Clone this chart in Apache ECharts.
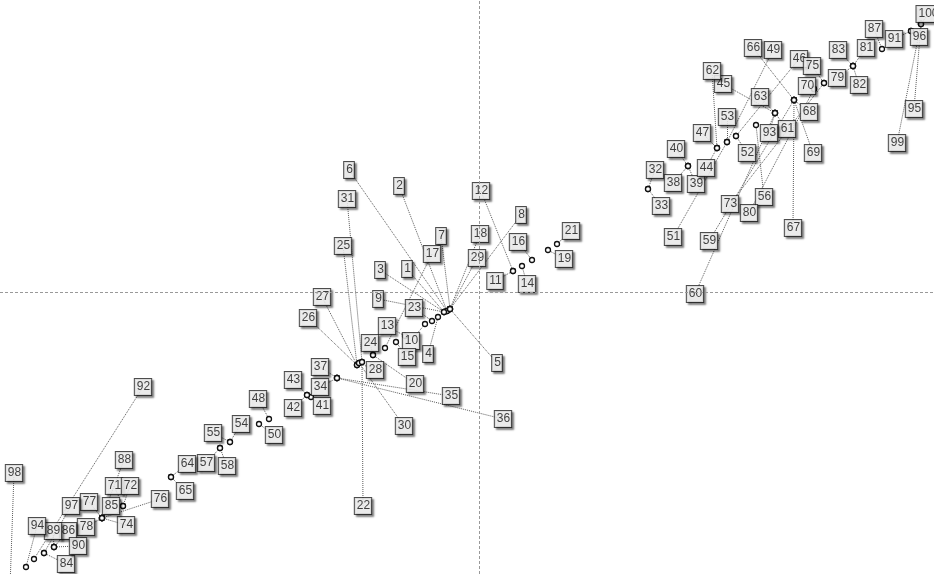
<!DOCTYPE html>
<html>
<head>
<meta charset="utf-8">
<script src="https://cdn.jsdelivr.net/npm/echarts@6/dist/echarts.min.js"></script>
<style>html,body{margin:0;padding:0;background:#fff}#c{width:934px;height:574px}</style>
</head>
<body>
<div id="c"></div>
<script>
// Label ids (1..100)
const ids = Array.from({length: 100}, (_, i) => String(i + 1));
// Label box positions (data units)
const labelX = [-72,-80,-99,-51,18,-130,-38,42,-101,-68,16,2,-92,48,-72,39,-47,1,85,-64,92,-116,-65,-109,-136,-171,-157,-104,-2,-75,-132,176,182,-159,-28,24,-159,194,217,197,-157,-186,-186,227,244,320,223,-221,294,-205,194,268,248,-238,-266,285,-273,-252,230,216,308,233,281,-292,-294,274,314,330,334,328,-365,-349,251,-353,333,-319,-390,-393,358,270,387,380,359,-413,-368,-411,395,-355,-426,-401,415,-336,290,-442,435,440,-408,-465,418,449];
const labelY = [23,106,22,-62,-71,122,56,77,-7,-49,11,101,-34,8,-65,50,38,58,33,-92,61,-214,-16,-51,46,-26,-5,-78,34,-134,93,122,86,-95,-104,-127,-75,109,108,143,-114,-116,-88,124,208,233,159,-107,242,-143,55,139,175,-132,-141,95,-171,-174,51,-2,163,221,195,-172,-199,244,64,180,139,206,-194,-194,88,-233,226,-207,-210,-235,214,79,244,207,242,-272,-214,-239,263,-168,-239,-254,253,-95,159,-234,183,255,-214,-181,149,278];
// Point positions each label refers to (data units)
const pointX = [-35,-32,-35,-41,-29,-32,-29,-29,-35,-54,34,34,-74,43,-83,53,-94,-29,69,-106,78,-117,-47,-106,-122,-122,-122,-120,-29,-120,-117,169,169,-142,-142,-142,-142,209,209,209,-168,-172,-172,238,296,257,238,-210,248,-220,248,257,248,-249,-249,277,-259,-259,315,296,296,238,296,-308,-308,315,315,315,315,335,-356,-356,345,-377,345,-377,-377,-377,374,335,374,374,374,-435,-377,-425,403,-377,-425,-425,432,-445,296,-453,442,432,-435,-469,442,442];
const pointY = [-20,-19,-20,-25,-17,-19,-17,-17,-20,-32,21,21,-44,26,-50,32,-56,-17,42,-63,48,-70,-29,-63,-73,-73,-73,-71,-17,-71,-70,103,103,-86,-86,-86,-86,126,126,126,-105,-103,-103,144,179,156,144,-127,150,-132,150,156,150,-150,-150,167,-156,-156,192,179,179,144,179,-185,-185,192,192,192,192,203,-214,-214,209,-226,209,-226,-226,-226,226,203,226,226,226,-261,-226,-255,243,-226,-255,-255,261,-267,179,-275,268,261,-261,-295,268,268];

const chart = echarts.init(document.getElementById('c'), null, {renderer: 'canvas'});

const leaderData = ids.map((id, i) => ({coords: [[labelX[i], labelY[i]], [pointX[i], pointY[i]]]}));
const pointData = ids.map((id, i) => [pointX[i], pointY[i]]);
const labelData = ids.map((id, i) => ({name: id, value: [labelX[i], labelY[i]]}));

chart.setOption({
  animation: false,
  backgroundColor: '#fff',
  grid: {left: 0, right: 0, top: 0, bottom: 0, containLabel: false},
  xAxis: {type: 'value', min: -479, max: 455, show: false},
  yAxis: {type: 'value', min: -282, max: 292, show: false},
  series: [
    {
      type: 'lines',
      coordinateSystem: 'cartesian2d',
      z: 1,
      silent: true,
      clip: true,
      lineStyle: {color: '#5a5a5a', width: 1, type: [1, 1], opacity: 1},
      data: leaderData,
      markLine: {
        silent: true,
        symbol: ['none', 'none'],
        label: {show: false},
        lineStyle: {color: '#999', width: 1, type: [3, 2]},
        data: [{xAxis: 0}, {yAxis: 0}]
      }
    },
    {
      type: 'scatter',
      z: 2,
      silent: true,
      clip: true,
      symbol: 'circle',
      symbolSize: 5,
      itemStyle: {color: '#fff', borderColor: '#111', borderWidth: 1.3, opacity: 1},
      data: pointData
    },
    {
      type: 'scatter',
      z: 3,
      silent: true,
      clip: false,
      symbolSize: 1,
      itemStyle: {color: 'rgba(0,0,0,0)'},
      label: {
        show: true,
        position: 'inside',
        formatter: '{b}',
        fontFamily: 'Liberation Sans, Arial, sans-serif',
        fontSize: 12,
        color: '#111',
        backgroundColor: '#fff',
        borderColor: '#222',
        borderWidth: 1,
        padding: [3, 1, 1, 2],
        shadowColor: 'rgba(0,0,0,0.5)',
        shadowBlur: 2,
        shadowOffsetX: 2,
        shadowOffsetY: 2
      },
      labelLayout: {hideOverlap: false},
      data: labelData
    }
  ]
});
</script>
</body>
</html>
